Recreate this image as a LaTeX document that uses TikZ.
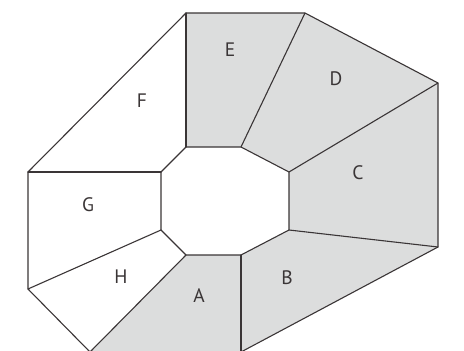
\documentclass[tikz,border=0pt]{standalone}
\usepackage{fontspec}
\setsansfont{PT Sans}
\definecolor{facegray}{HTML}{DCDDDD}
\definecolor{edgegray}{HTML}{3A3536}

\tikzset{
  rim/.style={draw=edgegray, line width=1.1pt},
  facelabel/.style={font=\sffamily\fontsize{19.5}{21}\selectfont, text=edgegray}
}

\begin{document}
\begin{tikzpicture}[
  x=1pt,
  y=-1pt,
  line cap=round,
  line join=round
]
  \useasboundingbox (0,0) rectangle (464,351);
  \clip (0,0) rectangle (464,351);

  % Outer ring vertices
  \coordinate (O1) at (186,13);
  \coordinate (O2) at (305,13);
  \coordinate (O3) at (438,83);
  \coordinate (O4) at (438,247);
  \coordinate (O5) at (241,352);
  \coordinate (O6) at (90,352);
  \coordinate (O7) at (28,289);
  \coordinate (O8) at (28,172);

  % Inner octagon vertices
  \coordinate (I1) at (186,147);
  \coordinate (I2) at (241,147);
  \coordinate (I3) at (289,172);
  \coordinate (I4) at (289,230);
  \coordinate (I5) at (241,255);
  \coordinate (I6) at (186,255);
  \coordinate (I7) at (161,230);
  \coordinate (I8) at (161,172);

  % Shaded faces A to E
  \fill[facegray]
    (O1)--(O2)--(O3)--(O4)--(O5)--(O6)
    --(I6)--(I5)--(I4)--(I3)--(I2)--(I1)--cycle;

  % Outline and octagon
  \draw[rim] (O1)--(O2)--(O3)--(O4)--(O5)--(O6)--(O7)--(O8)--cycle;
  \draw[rim] (I1)--(I2)--(I3)--(I4)--(I5)--(I6)--(I7)--(I8)--cycle;

  % Spokes
  \foreach \k in {1,...,8}
    \draw[rim] (I\k)--(O\k);

  % Face labels
  \node[facelabel] (labA) at (199,296) {A};
  \node[facelabel] (labB) at (287,278) {B};
  \node[facelabel] (labC) at (358,173) {C};
  \node[facelabel] (labD) at (336,79) {D};
  \node[facelabel] (labE) at (230,50) {E};
  \node[facelabel] (labF) at (142,101) {F};
  \node[facelabel] (labG) at (88,205) {G};
  \node[facelabel] (labH) at (121,277) {H};
\end{tikzpicture}
\end{document}
